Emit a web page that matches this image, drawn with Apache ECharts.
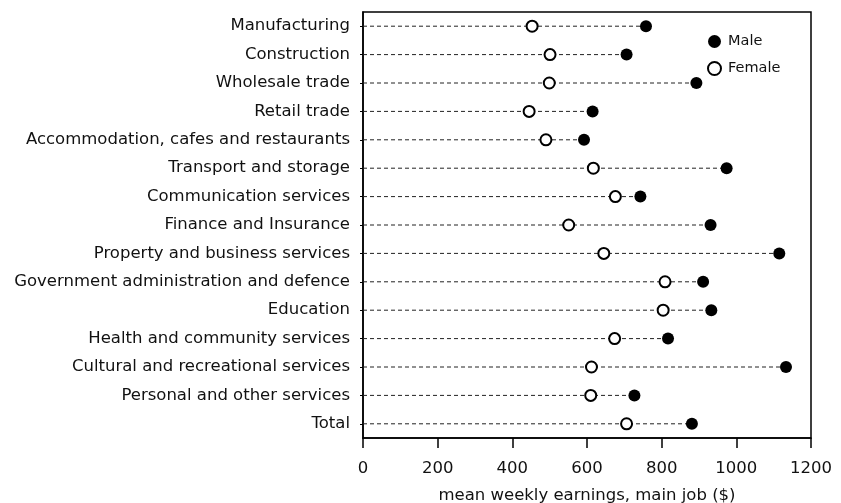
<!DOCTYPE html>
<html>
<head>
<meta charset="utf-8">
<script src="https://cdn.jsdelivr.net/npm/echarts@6/dist/echarts.min.js"></script>
<style>html,body{margin:0;padding:0;background:#fff}#c{width:841px;height:503px}</style>
</head>
<body>
<div id="c"></div>
<script>
var categories = ["Manufacturing","Construction","Wholesale trade","Retail trade","Accommodation, cafes and restaurants","Transport and storage","Communication services","Finance and Insurance","Property and business services","Government administration and defence","Education","Health and community services","Cultural and recreational services","Personal and other services","Total"];
var male = [758,706,893,615,592,974,743,931,1115,911,933,817,1133,727,881];
var female = [453,501,499,445,490,617,676,551,645,809,804,674,612,610,706];
var xTicks = [0,200,400,600,800,1000,1200];

var font = "DejaVu Sans";
var chart = echarts.init(document.getElementById('c'), null, {renderer:'canvas'});
var lineData = categories.map(function(c,i){ return [Math.max(male[i],female[i]), i]; });
chart.setOption({
  animation:false,
  backgroundColor:'#fff',
  textStyle:{fontFamily:font},
  grid:{left:363,right:30,top:12,bottom:65,containLabel:false,outerBoundsMode:'none',show:true,borderColor:'#000',borderWidth:1.5,backgroundColor:'transparent'},
  legend:{
    orient:'vertical', left:702, top:29, itemWidth:13, itemHeight:13, itemGap:12,
    textStyle:{fontFamily:font,fontSize:14.5,color:'#111',padding:[0,0,0,2]},
    data:['Male','Female']
  },
  xAxis:{
    type:'value', min:xTicks[0], max:xTicks[xTicks.length-1], interval:200,
    name:'mean weekly earnings, main job ($)', nameLocation:'middle', nameGap:49,
    nameTextStyle:{fontFamily:font,fontSize:16.5,color:'#111'},
    axisLine:{show:true,lineStyle:{color:'#000',width:1.5}},
    axisTick:{show:true,length:10,lineStyle:{color:'#000',width:1.5}},
    axisLabel:{fontFamily:font,fontSize:16.5,color:'#111',margin:22,formatter:function(v){return String(v);}},
    splitLine:{show:false}
  },
  yAxis:{
    type:'category', data:categories, inverse:true,
    axisLine:{show:true,lineStyle:{color:'#000',width:1.5}},
    axisTick:{show:true,alignWithLabel:true,length:3,lineStyle:{color:'#000'}},
    axisLabel:{fontFamily:font,fontSize:16.5,color:'#111',margin:13},
    splitLine:{show:false}
  },
  series:[
    {
      type:'custom', name:'guide', silent:true, z:1,
      data:lineData,
      renderItem:function(params, api){
        var p0 = api.coord([0, api.value(1)]);
        var p1 = api.coord([api.value(0), api.value(1)]);
        return {type:'line', shape:{x1:p0[0],y1:p0[1],x2:p1[0],y2:p1[1]},
          style:{stroke:'#222',lineWidth:1,lineDash:[4,3]}};
      },
      encode:{x:0,y:1}
    },
    {
      type:'scatter', name:'Female', z:3,
      data:female.map(function(v,i){return [v,i];}),
      symbol:'circle', symbolSize:11,
      itemStyle:{color:'#fff',borderColor:'#000',borderWidth:2,opacity:1}
    },
    {
      type:'scatter', name:'Male', z:4,
      data:male.map(function(v,i){return [v,i];}),
      symbol:'circle', symbolSize:12,
      itemStyle:{color:'#000',opacity:1}
    }
  ]
});
</script>
</body>
</html>
